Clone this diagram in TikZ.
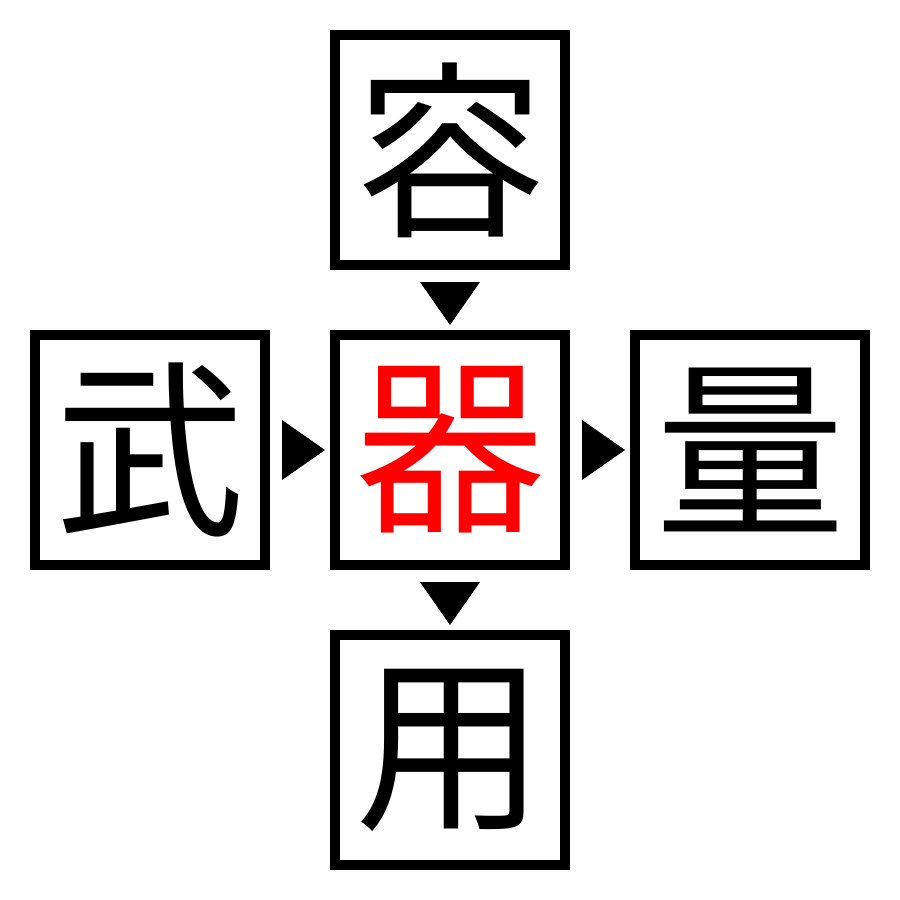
\documentclass[tikz,border=0pt]{standalone}
\usepackage{fontspec}
\newfontfamily\cjk{Noto Sans CJK JP}
\usetikzlibrary{calc}

\begin{document}
\begin{tikzpicture}[x=1pt,y=-1pt,
    cell/.style={draw,line width=10pt,minimum size=230pt,inner sep=0pt,
        font=\cjk\fontsize{190}{190}\selectfont}]
    % Define the spacing of the cells and the arrow heads
    \def\d{300}  % distance between cell centres
    \def\g{12}   % gap between cell and arrow head
    \def\h{30}   % half width of arrow head

    \useasboundingbox (0,0) rectangle (900,900);

    % Draw the cells
    \node[cell] (qi) at (450,450) {\textcolor{red}{器}};
    \node[cell] (rong) at ($(qi)+(0,-\d)$) {容};
    \node[cell] (wu) at ($(qi)+(-\d,0)$) {武};
    \node[cell] (liang) at ($(qi)+(\d,0)$) {量};
    \node[cell] (yong) at ($(qi)+(0,\d)$) {用};

    % Draw arrow heads
    \fill ($(rong.south)+(-\h,\g)$) -- ($(rong.south)+(\h,\g)$) -- ($(qi.north)+(0,-5)$) -- cycle;
    \fill ($(wu.east)+(\g,-\h)$) -- ($(wu.east)+(\g,\h)$) -- ($(qi.west)+(-5,0)$) -- cycle;
    \fill ($(qi.east)+(\g,-\h)$) -- ($(qi.east)+(\g,\h)$) -- ($(liang.west)+(-5,0)$) -- cycle;
    \fill ($(qi.south)+(-\h,\g)$) -- ($(qi.south)+(\h,\g)$) -- ($(yong.north)+(0,-5)$) -- cycle;

\end{tikzpicture}
\end{document}
